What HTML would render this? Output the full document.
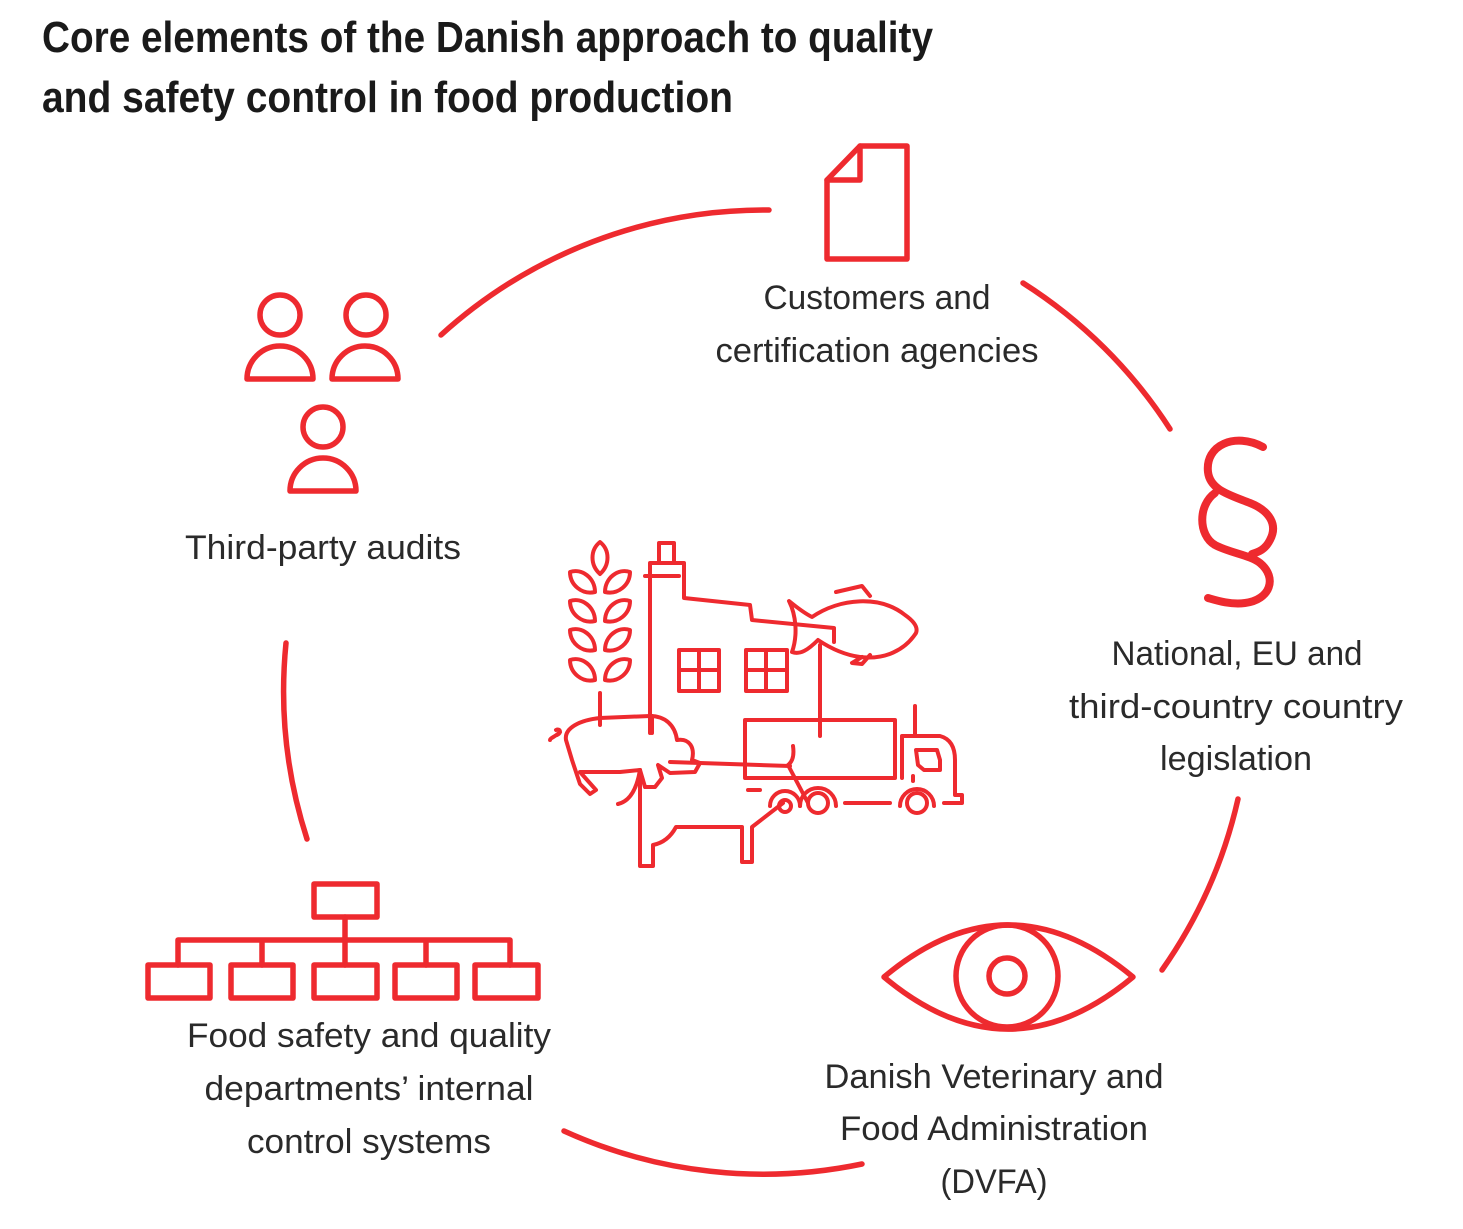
<!DOCTYPE html>
<html><head><meta charset="utf-8"><style>
html,body{margin:0;padding:0;background:#fff;}
svg{display:block;}
.t{font-family:"Liberation Sans",sans-serif;font-size:34px;fill:#2a2a2a;font-weight:normal;}
.h{font-family:"Liberation Sans",sans-serif;font-size:44px;fill:#1a1a1a;font-weight:bold;}
</style></head><body>
<svg width="1463" height="1229" viewBox="0 0 1463 1229" xmlns="http://www.w3.org/2000/svg">
<text class="h" x="42" y="52" textLength="891" lengthAdjust="spacingAndGlyphs">Core elements of the Danish approach to quality</text>
<text class="h" x="42" y="112" textLength="691" lengthAdjust="spacingAndGlyphs">and safety control in food production</text>

<g fill="none" stroke="#ee2a2f" stroke-width="5.5" stroke-linecap="round" stroke-linejoin="round">
<path d="M441,335 A482,482 0 0 1 769,210"/>
<path d="M1023,283 A482,482 0 0 1 1170,429"/>
<path d="M1238,799 A482,482 0 0 1 1162,970"/>
<path d="M862,1164 A482,482 0 0 1 564,1131"/>
<path d="M307,839 A482,482 0 0 1 286,643"/>

<path d="M860,146 L907,146 L907,259 L827,259 L827,180 Z"/>
<path d="M827,180 L860,180 L860,146"/>

<circle cx="280" cy="315" r="20"/>
<path d="M247,379 A33,33 0 0 1 313,379 Z"/>
<circle cx="366" cy="315" r="20"/>
<path d="M332,379 A33,33 0 0 1 398,379 Z"/>
<circle cx="323" cy="427" r="20"/>
<path d="M290,491 A33,33 0 0 1 356,491 Z"/>

<path d="M1263,447 C1235,432 1205,445 1208,472 C1210,490 1230,495 1250,503 C1270,511 1278,525 1270,540 C1265,550 1258,552 1252,554" stroke-width="8"/>
<path d="M1215,493 C1198,505 1198,535 1215,545 C1230,553 1250,555 1260,563 C1278,578 1270,600 1245,603 C1230,605 1215,600 1208,598" stroke-width="8"/>

<path d="M884,977 Q1008,873 1133,977 Q1008,1081 884,977 Z"/>
<circle cx="1007" cy="976" r="51"/>
<circle cx="1007" cy="976" r="18"/>

<rect x="314" y="884" width="63" height="33"/>
<path d="M345,917 V965 M178,940 H510 M178,940 V965 M262,940 V965 M426,940 V965 M510,940 V965"/>
<rect x="148" y="965" width="62" height="33"/>
<rect x="231" y="965" width="62" height="33"/>
<rect x="314" y="965" width="63" height="33"/>
<rect x="395" y="965" width="62" height="33"/>
<rect x="475" y="965" width="63" height="33"/>
</g>

<g fill="none" stroke="#ee2a2f" stroke-width="4" stroke-linecap="round" stroke-linejoin="round">
<path d="M600,542 C590,550 590,565 600,574 C610,565 610,550 600,542 Z"/>
<g id="lf">
<path d="M570,572 C582,568 595,578 595,592 C582,595 570,585 570,572 Z"/>
<path d="M630,572 C618,568 605,578 605,592 C618,595 630,585 630,572 Z"/>
</g>
<use href="#lf" transform="translate(0,29)"/>
<use href="#lf" transform="translate(0,58)"/>
<use href="#lf" transform="translate(0,88)"/>
<path d="M600,693 V724"/>
<path d="M659,562 V543 H674 V562"/>
<path d="M650,733 V563 H684 V598 L750,605 L752,620 L834,628 L834,642"/>
<path d="M645,576 H679"/>
<rect x="679" y="650" width="40" height="41"/>
<path d="M699,650 V691 M679,670 H719"/>
<rect x="746" y="650" width="41" height="41"/>
<path d="M766,650 V691 M746,670 H787"/>
<path d="M820,645 V736"/>
<path d="M789,601 C800,610 808,615 812,617 C840,598 880,595 905,615 C915,622 918,628 916,633 C905,650 885,660 860,657 C845,655 830,648 818,640 C808,650 800,655 792,652 C798,635 796,615 789,601 Z"/>
<path d="M836,592 L862,586 L870,596"/>
<path d="M862,657 L852,663 L862,664 L870,655"/>
<rect x="745" y="720" width="150" height="58"/>
<path d="M902,778 V736 H940 Q955,740 955,760 V795 H962 V803 H944"/>
<path d="M915,706 V735"/>
<path d="M916,750 H937 L940,760 V770 H924 L918,765 Z"/>
<path d="M913,776 V781"/>
<circle cx="818" cy="803" r="10"/>
<circle cx="917" cy="803" r="10"/>
<circle cx="785" cy="806" r="6"/>
<path d="M770,806 A15,15 0 0 1 800,806"/>
<path d="M800,806 A15,15 0 0 1 836,806"/>
<path d="M900,806 A15,15 0 0 1 934,806"/>
<path d="M845,803 H890 M748,790 H760"/>
<path d="M600,718 L650,716 C665,716 675,725 677,740 C690,738 695,748 692,760 L700,763 L695,772 L670,773 L658,765 L662,778 L655,787 L645,787 L640,770 L620,772 L580,772 L596,790 L590,794 L580,784 L572,760 L566,740 C564,728 580,720 600,718 Z"/>
<path d="M652,716 V733 M600,725 V718"/>
<path d="M560,732 C555,737 550,738 550,740 M556,730 C560,728 562,733 557,735"/>
<path d="M670,762 L790,766 M640,770 V866 H653 V845 Q668,842 676,827 H742 V862 H752 V827 L783,803"/>
<path d="M640,770 Q635,800 618,804"/>
<path d="M793,746 Q795,760 788,765 L808,803"/>
</g>

<text class="t" x="877" y="309" text-anchor="middle" textLength="227" lengthAdjust="spacingAndGlyphs">Customers and</text>
<text class="t" x="877" y="362" text-anchor="middle" textLength="323" lengthAdjust="spacingAndGlyphs">certification agencies</text>
<text class="t" x="323" y="559" text-anchor="middle" textLength="276" lengthAdjust="spacingAndGlyphs">Third-party audits</text>
<text class="t" x="1237" y="665" text-anchor="middle" textLength="251" lengthAdjust="spacingAndGlyphs">National, EU and</text>
<text class="t" x="1236" y="718" text-anchor="middle" textLength="334" lengthAdjust="spacingAndGlyphs">third-country country</text>
<text class="t" x="1236" y="770" text-anchor="middle" textLength="152" lengthAdjust="spacingAndGlyphs">legislation</text>
<text class="t" x="994" y="1088" text-anchor="middle" textLength="339" lengthAdjust="spacingAndGlyphs">Danish Veterinary and</text>
<text class="t" x="994" y="1140" text-anchor="middle" textLength="308" lengthAdjust="spacingAndGlyphs">Food Administration</text>
<text class="t" x="994" y="1193" text-anchor="middle" textLength="107" lengthAdjust="spacingAndGlyphs">(DVFA)</text>
<text class="t" x="369" y="1047" text-anchor="middle" textLength="364" lengthAdjust="spacingAndGlyphs">Food safety and quality</text>
<text class="t" x="369" y="1100" text-anchor="middle" textLength="329" lengthAdjust="spacingAndGlyphs">departments’ internal</text>
<text class="t" x="369" y="1153" text-anchor="middle" textLength="244" lengthAdjust="spacingAndGlyphs">control systems</text>
</svg>
</body></html>
